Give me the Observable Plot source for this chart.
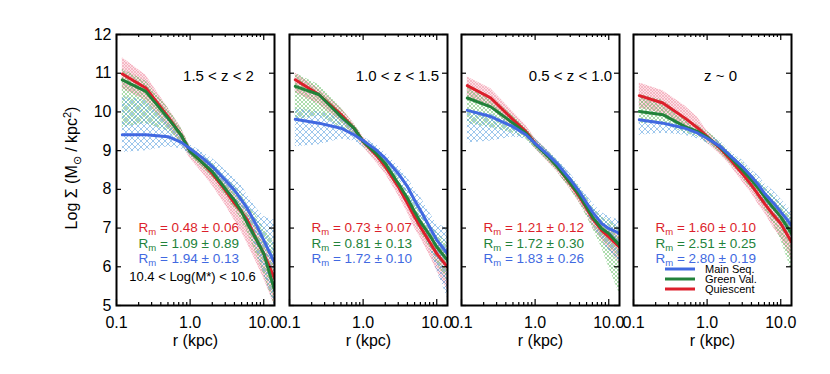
<!DOCTYPE html>
<html><head><meta charset="utf-8">
<script src="https://cdn.jsdelivr.net/npm/d3@7"></script>
<script src="https://cdn.jsdelivr.net/npm/@observablehq/plot@0.6"></script>
<style>
html,body{margin:0;padding:0;background:#fff;}
#chart{position:relative;width:830px;height:374px;font-family:"Liberation Sans",Arial,sans-serif;}
#chart svg{position:absolute;left:0;top:0;overflow:visible;}
</style></head><body><div id="chart"></div>
<script>
// ---- data ----
const radii = [0.12, 0.25, 0.5, 0.75, 1, 1.5, 2, 3, 4, 5, 6, 8, 10, 14];
const zLabels = ["1.5 < z < 2", "1.0 < z < 1.5", "0.5 < z < 1.0", "z ~ 0"];
const seriesNames = ["Main Seq.", "Green Val.", "Quiescent"];
const massLabel = "10.4 < Log(M*) < 10.6";
const xMajor = [0.1, 1, 10];
const xMinor = [0.2, 0.3, 0.4, 0.5, 0.6, 0.7, 0.8, 0.9, 2, 3, 4, 5, 6, 7, 8, 9];
const yTicks = [5, 6, 7, 8, 9, 10, 11, 12];

const rmQ = [0.48, 0.73, 1.21, 1.60], rmQErr = [0.06, 0.07, 0.12, 0.10];
const rmG = [1.09, 0.81, 1.72, 2.51], rmGErr = [0.89, 0.13, 0.30, 0.25];
const rmM = [1.94, 1.72, 1.83, 2.80], rmMErr = [0.13, 0.10, 0.26, 0.19];

// panel 1 : 1.5 < z < 2
const q1   = [10.98, 10.62, 9.88, 9.41, 8.98, 8.67, 8.41, 7.98, 7.64, 7.42, 7.2, 6.69, 6.34, 5.7];
const q1Lo = [10.6, 10.3, 9.6, 9.2, 8.8, 8.4, 8.1, 7.6, 7.2, 6.9, 6.6, 6.1, 5.7, 5.0];
const q1Hi = [11.4, 10.95, 10.1, 9.6, 9.1, 8.85, 8.6, 8.2, 7.9, 7.65, 7.45, 7.0, 6.7, 6.2];
const g1   = [10.83, 10.53, 9.84, 9.41, 8.98, 8.67, 8.46, 8.02, 7.72, 7.42, 7.12, 6.69, 6.34, 5.4];
const g1Lo = [9.6, 9.7, 9.5, 9.2, 8.85, 8.55, 8.3, 7.85, 7.5, 7.2, 6.9, 6.3, 5.8, 5.0];
const g1Hi = [11.1, 10.8, 10.1, 9.6, 9.1, 8.85, 8.7, 8.3, 8.1, 7.9, 7.6, 7.3, 7.0, 6.6];
const m1   = [9.41, 9.41, 9.36, 9.22, 9.05, 8.8, 8.59, 8.24, 7.98, 7.72, 7.5, 7.07, 6.69, 6.1];
const m1Lo = [8.95, 9.0, 9.1, 9.05, 8.9, 8.65, 8.4, 8.0, 7.7, 7.35, 7.1, 6.4, 5.8, 5.0];
const m1Hi = [10.4, 10.3, 9.8, 9.4, 9.15, 8.95, 8.8, 8.5, 8.3, 8.1, 7.85, 7.5, 7.3, 7.2];
// panel 2 : 1.0 < z < 1.5
const q2   = [10.83, 10.45, 9.93, 9.58, 9.24, 8.89, 8.59, 8.07, 7.64, 7.29, 7.03, 6.64, 6.34, 5.99];
const q2Lo = [10.5, 10.2, 9.75, 9.4, 9.1, 8.7, 8.4, 7.85, 7.4, 7.0, 6.75, 6.3, 5.9, 5.4];
const q2Hi = [11.0, 10.6, 10.1, 9.7, 9.35, 9.0, 8.7, 8.2, 7.8, 7.5, 7.25, 6.9, 6.6, 6.4];
const g2   = [10.66, 10.45, 9.88, 9.58, 9.24, 8.93, 8.67, 8.15, 7.77, 7.42, 7.16, 6.82, 6.51, 6.17];
const g2Lo = [9.8, 9.9, 9.6, 9.4, 9.1, 8.8, 8.5, 8.0, 7.6, 7.2, 6.9, 6.5, 6.1, 5.6];
const g2Hi = [11.0, 10.7, 10.1, 9.7, 9.35, 9.05, 8.8, 8.3, 7.95, 7.65, 7.4, 7.1, 6.9, 6.6];
const m2   = [9.81, 9.71, 9.58, 9.41, 9.26, 9.02, 8.8, 8.41, 8.07, 7.72, 7.46, 7.03, 6.69, 6.34];
const m2Lo = [9.1, 9.15, 9.3, 9.25, 9.1, 8.85, 8.6, 8.2, 7.8, 7.4, 7.1, 6.5, 5.9, 5.2];
const m2Hi = [10.1, 10.0, 9.9, 9.55, 9.35, 9.15, 8.95, 8.6, 8.3, 8.0, 7.8, 7.4, 7.1, 7.0];
// panel 3 : 0.5 < z < 1.0
const q3   = [10.68, 10.36, 9.8, 9.49, 9.19, 8.85, 8.59, 8.15, 7.81, 7.51, 7.25, 6.94, 6.77, 6.51];
const q3Lo = [10.4, 10.1, 9.6, 9.35, 9.05, 8.7, 8.45, 8.0, 7.65, 7.35, 7.05, 6.7, 6.45, 6.1];
const q3Hi = [10.9, 10.6, 10.0, 9.65, 9.32, 9.0, 8.72, 8.3, 7.98, 7.7, 7.45, 7.15, 7.0, 6.8];
const g3   = [10.36, 10.13, 9.71, 9.45, 9.17, 8.85, 8.59, 8.17, 7.85, 7.55, 7.29, 6.99, 6.86, 6.56];
const g3Lo = [9.7, 9.6, 9.45, 9.3, 9.05, 8.7, 8.45, 8.0, 7.65, 7.3, 7.0, 6.5, 6.0, 5.3];
const g3Hi = [10.7, 10.4, 9.9, 9.6, 9.3, 9.0, 8.75, 8.35, 8.05, 7.8, 7.55, 7.3, 7.2, 7.0];
const m3   = [10.04, 9.88, 9.62, 9.41, 9.19, 8.89, 8.66, 8.26, 7.94, 7.65, 7.42, 7.12, 6.99, 6.86];
const m3Lo = [9.2, 9.25, 9.35, 9.3, 9.05, 8.75, 8.5, 8.1, 7.75, 7.4, 7.1, 6.7, 6.4, 6.1];
const m3Hi = [10.05, 9.95, 9.7, 9.5, 9.3, 9.0, 8.78, 8.4, 8.1, 7.85, 7.65, 7.4, 7.3, 7.2];
// panel 4 : z ~ 0
const q4   = [10.42, 10.23, 9.84, 9.58, 9.36, 9.06, 8.8, 8.41, 8.11, 7.85, 7.64, 7.33, 7.12, 6.64];
const q4Lo = [10.1, 9.95, 9.65, 9.4, 9.2, 8.9, 8.65, 8.2, 7.9, 7.6, 7.4, 7.0, 6.75, 6.2];
const q4Hi = [10.75, 10.55, 10.15, 9.85, 9.5, 9.2, 8.95, 8.55, 8.3, 8.05, 7.85, 7.55, 7.4, 7.0];
const g4   = [10.01, 9.93, 9.62, 9.49, 9.35, 9.09, 8.86, 8.5, 8.24, 8.02, 7.81, 7.51, 7.29, 6.86];
const g4Lo = [9.7, 9.7, 9.45, 9.35, 9.2, 8.95, 8.7, 8.3, 8.0, 7.75, 7.5, 7.1, 6.7, 5.9];
const g4Hi = [10.45, 10.3, 9.85, 9.65, 9.5, 9.25, 9.0, 8.7, 8.45, 8.25, 8.1, 7.85, 7.65, 7.3];
const m4   = [9.8, 9.71, 9.58, 9.45, 9.32, 9.11, 8.89, 8.59, 8.33, 8.11, 7.9, 7.64, 7.42, 7.07];
const m4Lo = [9.4, 9.45, 9.4, 9.3, 9.2, 9.0, 8.78, 8.45, 8.15, 7.9, 7.65, 7.35, 7.1, 6.7];
const m4Hi = [9.8, 9.75, 9.65, 9.55, 9.42, 9.25, 9.0, 8.75, 8.5, 8.35, 8.15, 7.95, 7.75, 7.45];

// ---- layout / style ----
const RED = "#dc1f2b", GREEN = "#22823a", BLUE = "#4169e1";
const FONT = '"Liberation Sans", Arial, Helvetica, sans-serif';
const W = 830, H = 374, TOP = 34, BOTTOM = 305, PW = 158;
const lefts = [116, 289, 461, 633];
const innerH = BOTTOM - TOP;

const panelData = [
  {m: [m1, m1Lo, m1Hi], g: [g1, g1Lo, g1Hi], q: [q1, q1Lo, q1Hi], zdx: 23},
  {m: [m2, m2Lo, m2Hi], g: [g2, g2Lo, g2Hi], q: [q2, q2Lo, q2Hi], zdx: 29},
  {m: [m3, m3Lo, m3Hi], g: [g3, g3Lo, g3Hi], q: [q3, q3Lo, q3Hi], zdx: 30},
  {m: [m4, m4Lo, m4Hi], g: [g4, g4Lo, g4Hi], q: [q4, q4Lo, q4Hi], zdx: 8}
];
const rows = ([mid, lo, hi]) => radii.map((r, i) => ({r, v: mid[i], lo: lo[i], hi: hi[i]}));

const chart = document.getElementById("chart");

// hatch patterns
const defs = d3.select(chart).append("svg").attr("width", 0).attr("height", 0).append("defs");
function hatch(id, size, color, width, bg) {
  const p = defs.append("pattern").attr("id", id).attr("patternUnits", "userSpaceOnUse")
    .attr("width", size).attr("height", size);
  if (bg) p.append("rect").attr("width", size).attr("height", size).attr("fill", bg);
  p.append("path")
    .attr("d", `M0,0L${size},${size}M${size},0L0,${size}M${-size/2},${size/2}L${size/2},${-size/2}M${size/2},${size*1.5}L${size*1.5},${size/2}M${-size/2},${size/2}L${size/2},${size*1.5}M${size/2},${-size/2}L${size*1.5},${size/2}`)
    .attr("stroke", color).attr("stroke-width", width).attr("fill", "none");
}
hatch("hatchRed", 3, "rgba(240,150,170,0.75)", 0.7, "rgba(250,200,210,0.55)");
hatch("hatchGreen", 4, "rgba(90,185,90,0.85)", 0.6, null);
hatch("hatchBlue", 6, "rgba(100,165,225,0.9)", 0.7, null);

const fmt = (v, e) => `R_m = ${v.toFixed(2)} \u00b1 ${e.toFixed(2)}`;

panelData.forEach((pd, p) => {
  const left = lefts[p];
  const M = rows(pd.m), G = rows(pd.g), Q = rows(pd.q);
  const marks = [
    Plot.areaY(Q, {x: "r", y1: "lo", y2: "hi", fill: "url(#hatchRed)", clip: true}),
    Plot.areaY(G, {x: "r", y1: "lo", y2: "hi", fill: "url(#hatchGreen)", clip: true}),
    Plot.areaY(M, {x: "r", y1: "lo", y2: "hi", fill: "url(#hatchBlue)", clip: true}),
    Plot.line(Q, {x: "r", y: "v", stroke: RED, strokeWidth: 3, clip: true}),
    Plot.line(G, {x: "r", y: "v", stroke: GREEN, strokeWidth: 3, clip: true}),
    Plot.line(M, {x: "r", y: "v", stroke: BLUE, strokeWidth: 3, clip: true}),
    // inward ticks
    Plot.ruleX(xMajor, {insetTop: innerH - 6, stroke: "black", strokeWidth: 1.2}),
    Plot.ruleX(xMajor, {insetBottom: innerH - 6, stroke: "black", strokeWidth: 1.2}),
    Plot.ruleX(xMinor, {insetTop: innerH - 3, stroke: "black", strokeWidth: 1.2}),
    Plot.ruleX(xMinor, {insetBottom: innerH - 3, stroke: "black", strokeWidth: 1.2}),
    Plot.ruleY(yTicks, {insetRight: PW - 5, stroke: "black", strokeWidth: 1.2}),
    Plot.ruleY(yTicks, {insetLeft: PW - 5, stroke: "black", strokeWidth: 1.2}),
    Plot.frame({stroke: "black", strokeWidth: 2}),
    Plot.axisX(xMajor, {anchor: "bottom", tickSize: 0, tickPadding: 11, tickFormat: d => d.toFixed(1), fontSize: 16, label: null}),
    Plot.text(["r (kpc)"], {frameAnchor: "bottom", dy: 40, fontSize: 16}),
    Plot.text([zLabels[p]], {frameAnchor: "top", dx: pd.zdx, dy: 36, fontSize: 15}),
    Plot.text([fmt(rmQ[p], rmQErr[p])], {frameAnchor: "top-left", dx: 22, dy: 188, fontSize: 13.5, fill: RED, textAnchor: "start"}),
    Plot.text([fmt(rmG[p], rmGErr[p])], {frameAnchor: "top-left", dx: 22, dy: 204, fontSize: 13.5, fill: GREEN, textAnchor: "start"}),
    Plot.text([fmt(rmM[p], rmMErr[p])], {frameAnchor: "top-left", dx: 22, dy: 219, fontSize: 13.5, fill: BLUE, textAnchor: "start"})
  ];
  if (p === 0) {
    marks.push(Plot.axisY(yTicks, {anchor: "left", tickSize: 0, tickPadding: 5, fontSize: 16, label: null}));
    marks.push(Plot.text([massLabel], {frameAnchor: "bottom", dx: -3, dy: -25, fontSize: 13}));
  }
  const svg = Plot.plot({
    width: W, height: H,
    marginLeft: left, marginRight: W - left - PW, marginTop: TOP, marginBottom: H - BOTTOM,
    x: {type: "log", domain: [0.1, 14], axis: null},
    y: {domain: [5, 12], axis: null},
    style: {background: "transparent", fontFamily: FONT, overflow: "visible", color: "black"},
    marks
  });
  chart.appendChild(svg);
  const s = d3.select(svg);
  // subscripts for R_m
  s.selectAll("text").each(function() {
    const t = this.textContent;
    if (t.startsWith("R_m")) {
      const sel = d3.select(this);
      sel.text(null);
      sel.append("tspan").text("R");
      sel.append("tspan").attr("font-size", "9.5").attr("dy", 3).text("m");
      sel.append("tspan").attr("dy", -3).text(t.slice(3));
    }
  });
  if (p === 0) {
    const t = s.append("text").attr("transform", "translate(77,168) rotate(-90)")
      .attr("text-anchor", "middle").attr("font-size", 16).attr("font-family", FONT).attr("fill", "black");
    t.append("tspan").text("Log \u03a3 (M");
    t.append("tspan").attr("font-size", 11).attr("dy", 4).text("\u2299");
    t.append("tspan").attr("dy", -4).text(" / kpc");
    t.append("tspan").attr("font-size", 11).attr("dy", -6).text("2");
    t.append("tspan").attr("dy", 6).text(")");
  }
  if (p === 3) {
    const colors = [BLUE, GREEN, RED];
    const g = s.append("g").attr("font-family", FONT).attr("text-anchor", "start");
    seriesNames.forEach((name, i) => {
      const y = 269 + 10 * i;
      g.append("line").attr("x1", 665).attr("x2", 695).attr("y1", y).attr("y2", y)
        .attr("stroke", colors[i]).attr("stroke-width", 3);
      g.append("text").attr("x", 705).attr("y", y).attr("dy", "0.35em").attr("font-size", 11)
        .attr("text-anchor", "start").attr("fill", "black").text(name);
    });
  }
});
</script></body></html>
